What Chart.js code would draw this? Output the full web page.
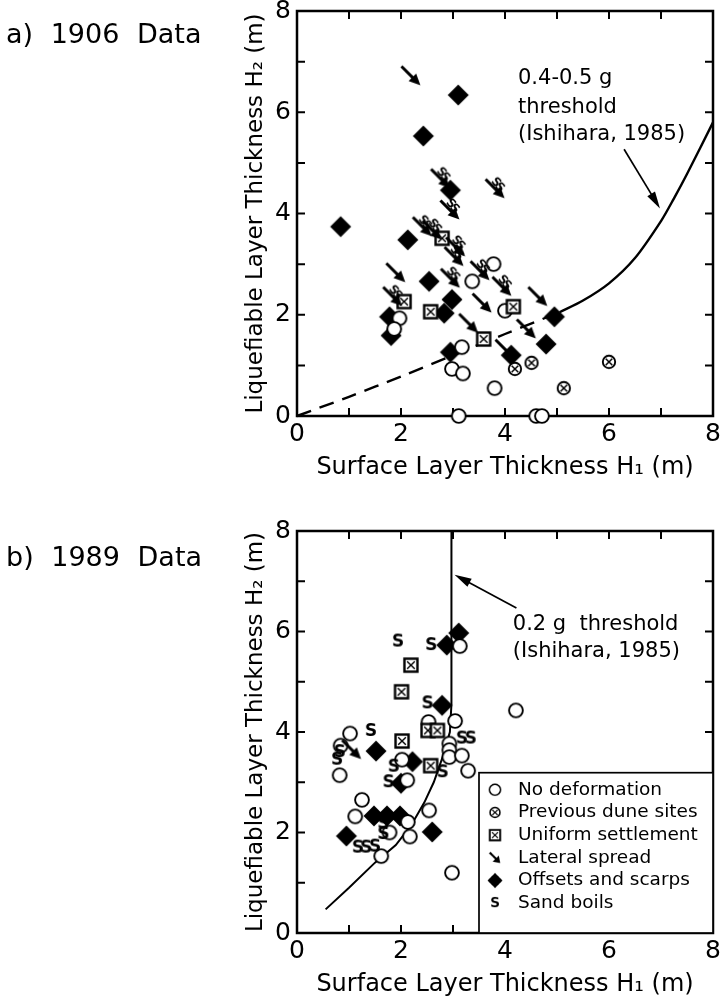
<!DOCTYPE html>
<html>
<head>
<meta charset="utf-8">
<script src="https://cdn.jsdelivr.net/npm/chart.js@4.4.1/dist/chart.umd.min.js"></script>
<style>
  body { margin: 0; background: #fff; width: 720px; height: 999px; overflow: hidden; position: relative; }
  .wrap { position: absolute; left: 0; width: 720px; }
  .panel { position: absolute; left: 6px; font: 27px "DejaVu Sans", sans-serif; word-spacing: 9px; line-height: 32px; color: #000; }
</style>
</head>
<body>
<div class="wrap" style="top:0;height:482px"><canvas id="chartA"></canvas></div>
<div class="wrap" style="top:500px;height:499px"><canvas id="chartB"></canvas></div>
<div class="panel" style="top:18px">a) 1906 Data</div>
<div class="panel" style="top:541px">b) 1989 Data</div>
<script>
// 目盛りラベル
const xTickLabels = ["0", "2", "4", "6", "8"];
const yTickLabels = ["0", "2", "4", "6", "8"];
const legendLabels = ["No deformation", "Previous dune sites", "Uniform settlement", "Lateral spread", "Offsets and scarps", "Sand boils"];

// a) 1906 データ [H1, H2]
const a_noDeformation = [[3.78,3.0],[3.37,2.66],[4.0,2.08],[1.97,1.93],[1.87,1.72],[3.17,1.36],[2.98,0.93],[3.19,0.84],[3.8,0.55],[3.11,0],[4.6,0],[4.71,0]];
const a_duneSites = [[4.19,0.93],[4.51,1.05],[5.13,0.55],[6.0,1.07]];
const a_uniform = [[2.79,3.51],[2.06,2.26],[2.57,2.06],[4.16,2.16],[3.59,1.52]];
const a_lateral = [[2.19,6.72],[1.9,2.83],[3.56,2.23],[4.63,2.36],[3.3,1.83],[4.41,1.72],[4.0,1.32]];
const a_lateralSand = [[2.76,4.69],[3.81,4.49],[2.94,4.07],[2.41,3.74],[2.6,3.67],[3.05,3.34],[3.02,3.15],[2.95,2.72],[3.52,2.87],[3.94,2.56],[1.84,2.36]];
const a_offsets = [[3.1,6.34],[2.43,5.53],[2.95,4.46],[0.84,3.74],[2.13,3.48],[2.54,2.66],[2.98,2.3],[4.95,1.96],[1.78,1.96],[1.81,1.59],[2.83,2.03],[4.79,1.42],[2.95,1.26],[4.12,1.2]];
// しきい値曲線 (Ishihara, 1985)
const a_dashX = [0, 1, 2, 3, 4, 5.05];
const a_dashY = [0, 0.38, 0.78, 1.2, 1.62, 2.05];
const a_solidX = [5.05, 5.5, 6, 6.5, 7, 7.25, 7.5, 8];
const a_solidY = [2.05, 2.28, 2.62, 3.12, 3.85, 4.3, 4.78, 5.8];

// b) 1989 データ
const b_noDeformation = [[1.02,3.97],[0.84,3.73],[0.82,3.14],[2.02,3.45],[2.12,3.04],[1.25,2.65],[1.12,2.32],[2.54,2.44],[2.13,2.21],[1.78,2.0],[2.17,1.92],[1.62,1.53],[2.98,1.2],[2.53,4.2],[3.04,4.22],[2.93,3.77],[2.93,3.64],[2.93,3.5],[3.17,3.53],[3.29,3.23],[4.21,4.43],[3.13,5.71]];
const b_uniform = [[2.19,5.33],[2.01,4.8],[2.02,3.82],[2.52,4.03],[2.7,4.03],[2.57,3.33]];
const b_lateral = [[1.05,3.65]];
const b_offsets = [[2.88,5.73],[3.11,5.97],[2.79,4.53],[1.52,3.62],[2.22,3.41],[2.0,2.98],[1.48,2.33],[1.73,2.33],[1.98,2.33],[2.6,2.01],[0.95,1.93]];
const b_sandBoils = [[1.94,5.8],[2.58,5.73],[2.51,4.57],[1.42,4.02],[0.82,3.6],[0.77,3.45],[3.17,3.87],[3.34,3.87],[1.86,3.31],[2.8,3.2],[1.76,3.0],[1.66,2.18],[1.66,1.97],[1.17,1.7],[1.33,1.7],[1.5,1.72]];
const b_lineX = [2.97, 2.97, 2.94, 2.8, 2.63, 2.45, 2.2, 1.9, 1.5, 1.0, 0.55];
const b_lineY = [8, 4.55, 4.0, 3.5, 3.0, 2.6, 2.15, 1.75, 1.4, 0.9, 0.47];

const FONT = "DejaVu Sans";
Chart.defaults.font.family = FONT;
Chart.defaults.color = "#000";

// 記号を小さいキャンバスに描く
function makeGlyph(size, fn) {
    const c = document.createElement("canvas");
    c.width = size; c.height = size;
    const g = c.getContext("2d");
    g.translate(size / 2, size / 2);
    g.strokeStyle = "#000"; g.fillStyle = "#000";
    fn(g);
    return c;
}
function arrowPath(g, len, lw) {
    const h = len / 2;
    g.lineWidth = lw;
    g.beginPath(); g.moveTo(-h, -h); g.lineTo(h * 0.3, h * 0.3); g.stroke();
    g.beginPath();
    g.moveTo(h, h);
    g.lineTo(h * 0.15 + 3.8, h * 0.15 - 3.8);
    g.lineTo(h * 0.15 - 3.8, h * 0.15 + 3.8);
    g.closePath(); g.fill();
}
const circleImg = makeGlyph(18, g => {
    g.beginPath(); g.arc(0, 0, 6.9, 0, Math.PI * 2);
    g.fillStyle = "#fff"; g.fill(); g.lineWidth = 1.9; g.stroke();
});
const duneImg = makeGlyph(18, g => {
    g.beginPath(); g.arc(0, 0, 6.2, 0, Math.PI * 2);
    g.fillStyle = "#fff"; g.fill(); g.lineWidth = 1.9; g.stroke();
    g.lineWidth = 1.5;
    g.beginPath(); g.moveTo(-3.3, -3.3); g.lineTo(3.3, 3.3); g.moveTo(-3.3, 3.3); g.lineTo(3.3, -3.3); g.stroke();
});
const squareImg = makeGlyph(18, g => {
    g.fillStyle = "#fff"; g.fillRect(-6.5, -6.5, 13, 13);
    g.lineWidth = 2.4; g.strokeRect(-6.5, -6.5, 13, 13);
    g.lineWidth = 1.4;
    g.beginPath(); g.moveTo(-3.8, -3.8); g.lineTo(3.8, 3.8); g.moveTo(-3.8, 3.8); g.lineTo(3.8, -3.8); g.stroke();
});
const diamondImg = makeGlyph(24, g => {
    g.beginPath(); g.moveTo(0, -10.5); g.lineTo(10.5, 0); g.lineTo(0, 10.5); g.lineTo(-10.5, 0); g.closePath(); g.fill();
});
const arrowImg = makeGlyph(24, g => arrowPath(g, 19, 2.9));
const smallArrowImg = makeGlyph(18, g => arrowPath(g, 13, 2.6));
const sandImg = makeGlyph(20, g => {
    g.font = "bold 17px " + FONT; g.textAlign = "center"; g.textBaseline = "middle";
    g.fillText("S", 0, 1);
});
const arrowSandImg = makeGlyph(28, g => {
    arrowPath(g, 19, 3.0);
    g.save(); g.translate(3, -4); g.rotate(Math.PI / 4);
    g.font = "bold 12px " + FONT; g.textAlign = "center"; g.textBaseline = "middle";
    g.fillText("S", -3, 0); g.fillText("S", 3, 1);
    g.restore();
});
const legendImgs = [circleImg, duneImg, squareImg, smallArrowImg, diamondImg, sandImg];

function pts(list) { return list.map(p => ({ x: p[0], y: p[1] })); }
function markers(label, list, img, order) {
    return { label, data: pts(list), pointStyle: img, pointRadius: 6, pointHoverRadius: 6,
             showLine: false, clip: false, order: order };
}
function curve(xs, ys, dash, tension, width) {
    return { data: xs.map((x, i) => ({ x: x, y: ys[i] })), showLine: true, pointRadius: 0,
             borderColor: "#000", borderWidth: width, borderDash: dash, tension: tension,
             fill: false, clip: false, order: 20 };
}

// 枠・内向き目盛り・注記・凡例
function drawArrow(ctx, x1, y1, x2, y2) {
    const a = Math.atan2(y2 - y1, x2 - x1);
    ctx.lineWidth = 1.7;
    ctx.beginPath(); ctx.moveTo(x1, y1); ctx.lineTo(x2 - 10 * Math.cos(a), y2 - 10 * Math.sin(a)); ctx.stroke();
    ctx.beginPath();
    ctx.moveTo(x2, y2);
    ctx.lineTo(x2 - 17 * Math.cos(a) + 4.5 * Math.sin(a), y2 - 17 * Math.sin(a) - 4.5 * Math.cos(a));
    ctx.lineTo(x2 - 17 * Math.cos(a) - 4.5 * Math.sin(a), y2 - 17 * Math.sin(a) + 4.5 * Math.cos(a));
    ctx.closePath(); ctx.fill();
}
const notesPlugin = {
    id: "notes",
    beforeDatasetsDraw(chart) {
        const { ctx, chartArea: ca, scales: { x, y } } = chart;
        ctx.save();
        ctx.strokeStyle = "#000";
        ctx.lineWidth = 2.5;
        ctx.strokeRect(ca.left, ca.top, ca.right - ca.left, ca.bottom - ca.top);
        ctx.lineWidth = 2;
        ctx.beginPath();
        for (let v = 1; v < 8; v++) {
            const px = x.getPixelForValue(v), py = y.getPixelForValue(v);
            ctx.moveTo(px, ca.bottom); ctx.lineTo(px, ca.bottom - 8);
            ctx.moveTo(px, ca.top); ctx.lineTo(px, ca.top + 8);
            ctx.moveTo(ca.left, py); ctx.lineTo(ca.left + 8, py);
            ctx.moveTo(ca.right, py); ctx.lineTo(ca.right - 8, py);
        }
        ctx.stroke();
        ctx.restore();
    },
    afterDatasetsDraw(chart, args, opts) {
        const { ctx, chartArea: ca, scales: { x, y } } = chart;
        ctx.save();
        ctx.fillStyle = "#000"; ctx.strokeStyle = "#000";
        ctx.font = "21px " + FONT;
        ctx.textBaseline = "middle";
        (opts.texts || []).forEach(t => ctx.fillText(t.text, x.getPixelForValue(t.x), y.getPixelForValue(t.y)));
        (opts.arrows || []).forEach(a => drawArrow(ctx,
            x.getPixelForValue(a.from[0]), y.getPixelForValue(a.from[1]),
            x.getPixelForValue(a.to[0]), y.getPixelForValue(a.to[1])));
        if (opts.legend) {
            const left = x.getPixelForValue(opts.legend.x), top = y.getPixelForValue(opts.legend.y);
            ctx.fillStyle = "#fff";
            ctx.fillRect(left, top, ca.right - left, ca.bottom - top);
            ctx.lineWidth = 1.7;
            ctx.strokeRect(left, top, ca.right - left, ca.bottom - top);
            ctx.fillStyle = "#000";
            ctx.font = "18.5px " + FONT;
            legendLabels.forEach((lab, i) => {
                const cy = top + 17 + i * 22.7;
                const img = legendImgs[i];
                const s = i === 4 ? 0.72 : 0.8;
                ctx.drawImage(img, left + 16 - img.width * s / 2, cy - img.height * s / 2, img.width * s, img.height * s);
                ctx.fillText(lab, left + 39, cy);
            });
        }
        ctx.restore();
    }
};

function makeScales() {
    return {
        x: {
            type: "linear", min: 0, max: 8,
            ticks: { stepSize: 2, font: { size: 25 }, color: "#000", padding: 3, maxRotation: 0,
                     callback: (v) => xTickLabels[v / 2] },
            grid: { display: false, drawTicks: false }, border: { display: false },
            title: { display: true, text: "Surface Layer Thickness H\u2081 (m)", font: { size: 24 }, color: "#000", padding: 0 },
            afterFit(s) { s.height = 66; s.paddingLeft = 0; s.paddingRight = 0; }
        },
        y: {
            type: "linear", min: 0, max: 8,
            ticks: { stepSize: 2, font: { size: 25 }, color: "#000", padding: 6,
                     callback: (v) => yTickLabels[v / 2] },
            grid: { display: false, drawTicks: false }, border: { display: false },
            title: { display: true, text: "Liquefiable Layer Thickness H\u2082 (m)", font: { size: 23 }, color: "#000", padding: 0 },
            afterFit(s) { s.width = 55; s.paddingTop = 0; s.paddingBottom = 0; }
        }
    };
}
function baseOptions(padTop, notes) {
    return {
        responsive: true, maintainAspectRatio: false, animation: false, devicePixelRatio: 1,
        layout: { padding: { left: 242, right: 6, top: padTop, bottom: 0 } },
        scales: makeScales(),
        plugins: { legend: { display: false }, tooltip: { enabled: false }, notes: notes }
    };
}

new Chart(document.getElementById("chartA"), {
    type: "scatter",
    data: { datasets: [
        markers(legendLabels[0], a_noDeformation, circleImg, 3),
        markers(legendLabels[1], a_duneSites, duneImg, 3),
        markers(legendLabels[2], a_uniform, squareImg, 2),
        markers(legendLabels[3], a_lateral, arrowImg, 1),
        markers("Lateral spread + sand boils", a_lateralSand, arrowSandImg, 1),
        markers(legendLabels[4], a_offsets, diamondImg, 4),
        curve(a_dashX, a_dashY, [15, 9], 0.3, 2.4),
        curve(a_solidX, a_solidY, [], 0.3, 2.4)
    ] },
    options: baseOptions(11, {
        texts: [
            { text: "0.4-0.5 g", x: 4.25, y: 6.66 },
            { text: "threshold", x: 4.25, y: 6.1 },
            { text: "(Ishihara, 1985)", x: 4.25, y: 5.55 }
        ],
        arrows: [ { from: [6.29, 5.27], to: [6.98, 4.1] } ]
    }),
    plugins: [notesPlugin]
});

new Chart(document.getElementById("chartB"), {
    type: "scatter",
    data: { datasets: [
        markers(legendLabels[0], b_noDeformation, circleImg, 3),
        markers(legendLabels[2], b_uniform, squareImg, 2),
        markers(legendLabels[3], b_lateral, arrowImg, 1),
        markers(legendLabels[4], b_offsets, diamondImg, 4),
        markers(legendLabels[5], b_sandBoils, sandImg, 1),
        curve(b_lineX, b_lineY, [], 0, 2)
    ] },
    options: baseOptions(31, {
        texts: [
            { text: "0.2 g  threshold", x: 4.15, y: 6.13 },
            { text: "(Ishihara, 1985)", x: 4.15, y: 5.6 }
        ],
        arrows: [ { from: [4.22, 6.47], to: [3.03, 7.13] } ],
        legend: { x: 3.5, y: 3.19 }
    }),
    plugins: [notesPlugin]
});
</script>
</body>
</html>
